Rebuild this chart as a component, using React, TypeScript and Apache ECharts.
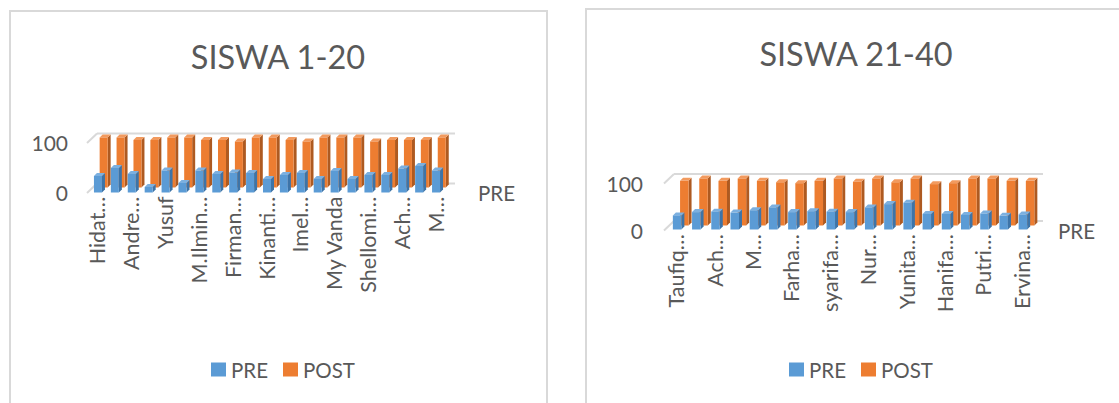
import React, { useEffect, useRef } from "react";
import * as echarts from "echarts";

const labelsA = ["Hidat…", "", "Andre…", "", "Yusuf", "", "M.Ilmin…", "", "Firman…", "", "Kinanti…", "", "Imel…", "", "My Vanda", "", "Shellomi…", "", "Ach…", "", "M…"];
const preA = [33, 49, 37, 11, 44, 19, 44, 37, 40, 39, 27, 35, 39, 27, 43, 27, 35, 35, 48, 53, 44];
const postA = [100, 100, 95, 95, 100, 100, 95, 95, 92, 100, 100, 95, 92, 100, 100, 100, 92, 95, 95, 95, 100];

const labelsB = ["Taufiq…", "", "Ach…", "", "M…", "", "Farha…", "", "syarifa…", "", "Nur…", "", "Yunita…", "", "Hanifa…", "", "Putri…", "", "Ervina…"];
const preB = [30, 37, 38, 36, 41, 47, 37, 39, 38, 37, 47, 54, 57, 33, 33, 31, 34, 29, 32];
const postB = [95, 100, 95, 100, 95, 92, 90, 95, 100, 93, 100, 92, 100, 88, 90, 100, 100, 95, 95];

const yTicks = { min: 0, max: 100, interval: 100 };
const FONT = "Lato, 'Open Sans', sans-serif";
const TEXT = "#595959";
const WALL = "#d9d9d9";
const PRE = { front: "#5b9bd5", side: "#3d74a8", top: "#7cb0e0" };
const POST = { front: "#ed7d31", side: "#ae5a21", top: "#f29a5e" };

function bars(name: string, data: number[], axis: number, c: typeof PRE, dx: number, dy: number, w: number) {
  return {
    type: "custom",
    name,
    xAxisIndex: axis,
    yAxisIndex: axis,
    clip: false,
    z: name === "POST" ? 2 : 3,
    itemStyle: { color: c.front },
    encode: { x: 0, y: 1 },
    data: data.map((v, i) => [i, v]),
    renderItem: (_p: any, api: any) => {
      const i = api.value(0);
      const top = api.coord([i, api.value(1)]);
      const base = api.coord([i, 0]);
      const l = top[0] + dx - w / 2;
      const r = l + w;
      const t = top[1] + dy;
      const b = base[1] + dy;
      const ox = 3;
      const oy = 3;
      return {
        type: "group",
        children: [
          { type: "polygon", shape: { points: [[r, t], [r + ox, t - oy], [r + ox, b - oy], [r, b]] }, style: { fill: c.side } },
          { type: "polygon", shape: { points: [[l, t], [l + ox, t - oy], [r + ox, t - oy], [r, t]] }, style: { fill: c.top } },
          { type: "polygon", shape: { points: [[l, t], [r, t], [r, b], [l, b]] }, style: { fill: c.front } },
        ],
      };
    },
  };
}

function wall(x0: number, x1: number, yTop: number, yBase: number) {
  const line = (x1a: number, y1a: number, x2a: number, y2a: number) => ({
    type: "line",
    z: 0,
    shape: { x1: x1a, y1: y1a, x2: x2a, y2: y2a },
    style: { stroke: WALL, lineWidth: 2 },
  });
  return [
    line(x0, yTop, x0 + 10, yTop - 9.5),
    line(x0 + 10, yTop - 9.5, x1, yTop - 9.5),
    line(x0, yBase, x0 + 10, yBase - 9.5),
    line(x1 - 10, yBase - 9.5, x1, yBase - 9.5),
  ];
}

const panel = (x: number, y: number, w: number, h: number) => ({
  type: "rect",
  z: 0,
  shape: { x, y, width: w, height: h },
  style: { fill: "#fff", stroke: "#d9d9d9", lineWidth: 2 },
});

const xAxisOf = (gridIndex: number, data: string[]) => ({
  type: "category",
  gridIndex,
  data,
  axisLine: { show: false },
  axisTick: { show: false },
  splitLine: { show: false },
  axisLabel: { interval: 0, rotate: 90, margin: 4, fontSize: 21.5, color: TEXT, fontFamily: FONT },
});
const yAxisOf = (gridIndex: number, margin: number) => ({
  type: "value",
  gridIndex,
  ...yTicks,
  axisLine: { show: false },
  axisTick: { show: false },
  splitLine: { show: false },
  axisLabel: { margin, fontSize: 21, color: TEXT, fontFamily: FONT },
});
const legendOf = (left: number) => ({
  left,
  top: 354,
  icon: "rect",
  itemWidth: 15,
  itemHeight: 14,
  itemGap: 15,
  selectedMode: false,
  data: ["PRE", "POST"],
  textStyle: { fontSize: 20.5, color: TEXT, fontFamily: FONT },
});
const titleOf = (text: string, left: number, top: number) => ({
  text,
  left,
  top,
  textAlign: "center",
  textStyle: { fontSize: 32.5, fontWeight: "normal", color: TEXT, fontFamily: FONT },
});

export default function App() {
  const ref = useRef<HTMLDivElement>(null);
  useEffect(() => {
    document.body.style.margin = "0";
    const chart = echarts.init(ref.current!, undefined, { renderer: "svg" });
    chart.setOption({
      animation: false,
      backgroundColor: "#fff",
      title: [titleOf("SISWA 1-20", 273, 35), titleOf("SISWA 21-40", 851, 32)],
      legend: [legendOf(206), legendOf(784)],
      grid: [
        { left: 89, top: 142.5, width: 355, height: 50 },
        { left: 666.5, top: 183, width: 365, height: 47 },
      ],
      xAxis: [xAxisOf(0, labelsA), xAxisOf(1, labelsB)],
      yAxis: [yAxisOf(0, 21), yAxisOf(1, 23.5)],
      graphic: [
        panel(10, 11, 537, 420),
        panel(586, 9, 560, 420),
        ...wall(87, 455, 143, 193),
        ...wall(664, 1043, 183.5, 230.5),
        { type: "text", x: 478, y: 182, style: { text: "PRE", fontSize: 20.5, fill: TEXT, fontFamily: FONT } },
        { type: "text", x: 1058, y: 220, style: { text: "PRE", fontSize: 20.5, fill: TEXT, fontFamily: FONT } },
      ],
      series: [
        bars("POST", postA, 0, POST, 6.2, -5, 8),
        bars("PRE", preA, 0, PRE, 0.5, 0, 8),
        bars("POST", postB, 1, POST, 8.2, -4.5, 8.5),
        bars("PRE", preB, 1, PRE, 1, -0.5, 8.5),
      ],
    });
    return () => chart.dispose();
  }, []);
  return <div ref={ref} style={{ width: 1119, height: 403 }} />;
}
